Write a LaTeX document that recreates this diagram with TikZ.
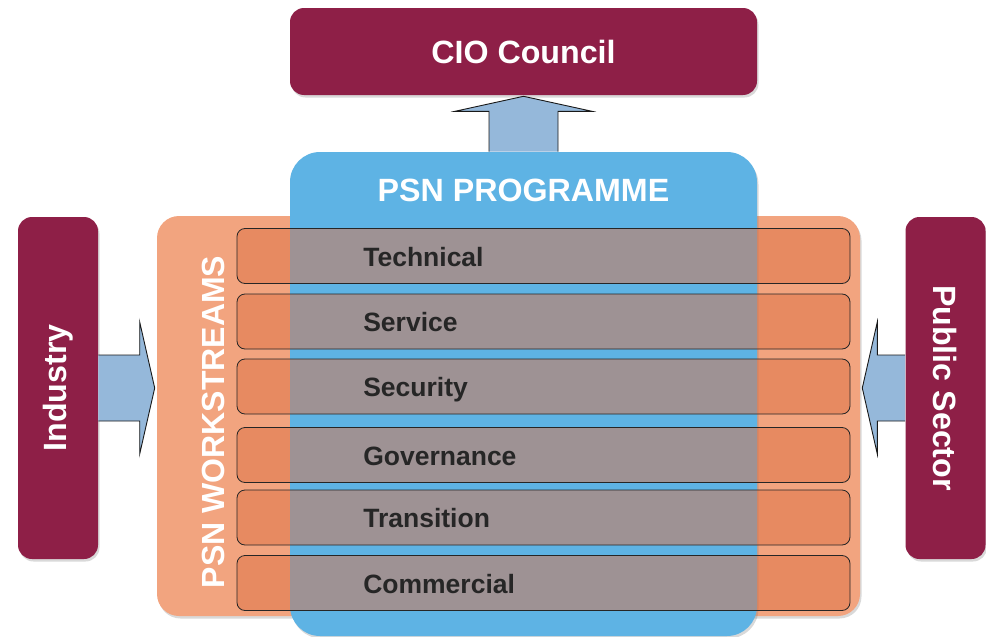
\documentclass[tikz,border=0pt]{standalone}
\usepackage{fontspec}
\setmainfont{Liberation Sans}
\usepackage{tikz}
\usetikzlibrary{calc,shadows}
\definecolor{bordeaux}{RGB}{142,31,71}
\definecolor{bleuprog}{RGB}{94,179,228}
\definecolor{orangews}{RGB}{242,164,127}
\definecolor{bandecol}{RGB}{222,114,69}
\definecolor{bleufleche}{RGB}{149,184,218}
\definecolor{texte}{RGB}{38,38,38}
\newcommand{\gtitre}{\fontsize{32.2}{36}\selectfont\bfseries}
\newcommand{\gbande}{\fontsize{26.5}{30}\selectfont\bfseries}

\begin{document}
\begin{tikzpicture}[x=1pt,y=-1pt,semithick]
  \tikzstyle{ombre}=[drop shadow={shadow xshift=1.5pt,shadow yshift=-2.5pt,opacity=0.3}]
  \tikzstyle{boite}=[ombre,rounded corners=14pt,fill=bordeaux,text=white,font=\gtitre,inner sep=0pt]
  \tikzstyle{bande}=[draw=black!85,thick,rounded corners=8pt,fill=bandecol,fill opacity=0.5,minimum width=613pt,minimum height=55pt]
  \tikzstyle{etiquette}=[text=texte,font=\gbande,anchor=base west,inner sep=0pt]
  \tikzstyle{fleche}=[draw=black!90,fill=bleufleche,line width=0.9pt]

  \useasboundingbox (0,0) rectangle (986,637);

  \node[ombre,rounded corners=22pt,fill=orangews,minimum width=703pt,minimum height=400pt] (work) at (508.5,416) {};
  \node[boite,minimum width=80pt,minimum height=342pt] (industry) at (58,388) {\rotatebox{90}{Industry}};
  \node[boite,minimum width=80pt,minimum height=342pt] (public)   at (945.5,388) {\rotatebox{-90}{Public Sector}};
  \node[boite,minimum width=467pt,minimum height=87pt] (council) at (523.5,51.5) {CIO Council};

  % fleches
  \coordinate (tipL) at ($(industry.east -| work.west)+(-2,0)$);
  \coordinate (tipR) at ($(public.west -| work.east)+(2,0)$);
  \draw[fleche] ($(industry.east)+(0,-33)$) -- ($(tipL)+(-15,-33)$) -- ++(0,-33) -- (tipL)
        -- ($(tipL)+(-15,66)$) -- ++(0,-33) -- ($(industry.east)+(0,33)$);
  \draw[fleche] ($(public.west)+(0,-33)$) -- ($(tipR)+(15,-33)$) -- ++(0,-33) -- (tipR)
        -- ($(tipR)+(15,66)$) -- ++(0,-33) -- ($(public.west)+(0,33)$);

  \node[ombre,rounded corners=30pt,fill=bleuprog,minimum width=467pt,minimum height=484pt] (prog) at (523.5,394) {};
  \coordinate (tipH) at ($(prog.north |- council.south)+(0,1)$);
  \draw[fleche] ($(prog.north)+(-34.5,0)$) -- ($(tipH)+(-34.5,15)$) -- ++(-34,0) -- (tipH)
        -- ($(tipH)+(68.5,15)$) -- ++(-34,0) -- ($(prog.north)+(34.5,0)$);

  \node[text=white,font=\gtitre] (progtitle) at (523.5,190) {PSN PROGRAMME};
  \node[text=white,font=\fontsize{32}{36}\selectfont\bfseries] (wstitle) at (213,422) {\rotatebox{90}{PSN WORKSTREAMS}};

  % bandes
  \foreach \nom/\y in {Technical/256,Service/321.5,Security/386.5,Governance/455,Transition/517.5,Commercial/583}
  {
    \node[bande] (b\nom) at (543.5,\y) {};
    \node[etiquette] (t\nom) at (363,\y+10) {\nom};
  }
\end{tikzpicture}
\end{document}
